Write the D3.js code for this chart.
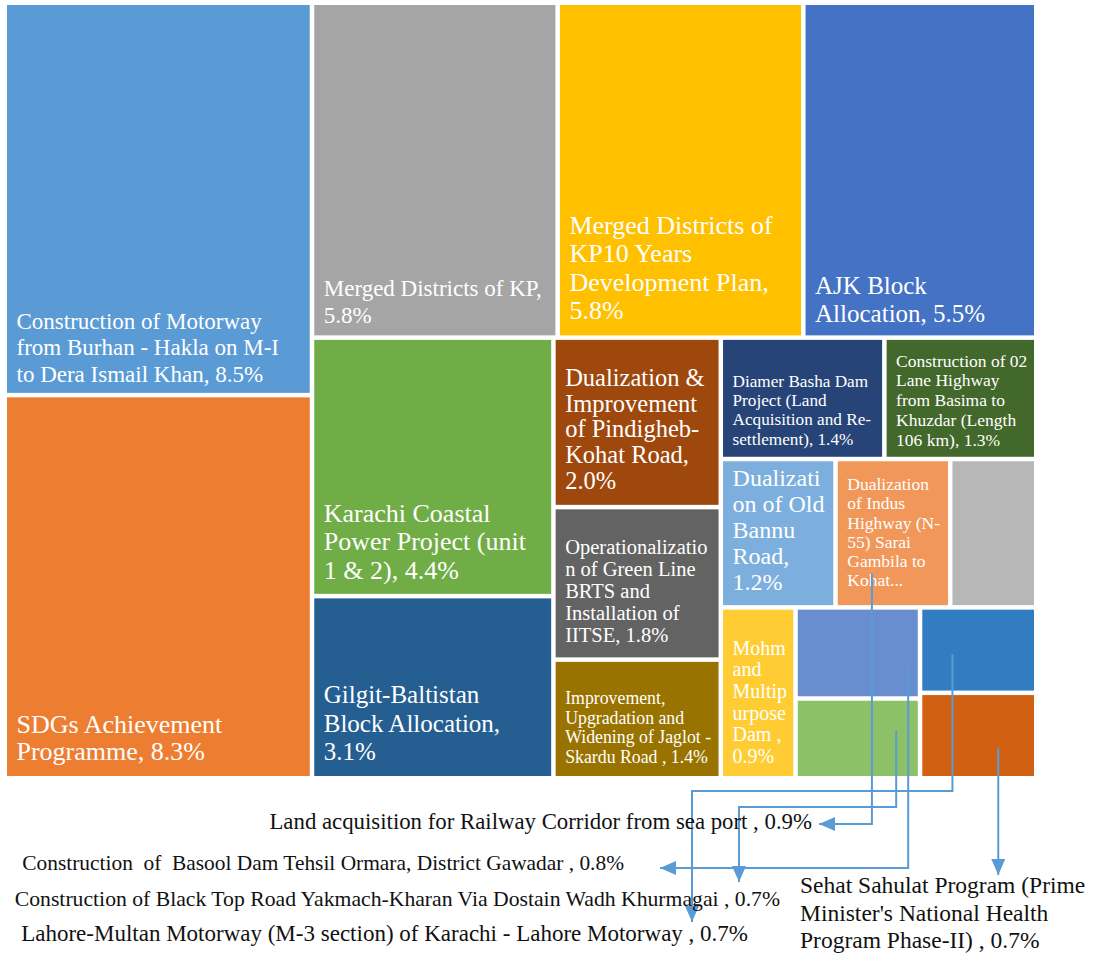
<!DOCTYPE html>
<html>
<head>
<meta charset="utf-8">
<script src="https://cdn.jsdelivr.net/npm/d3@7"></script>
<style>
  html, body { margin: 0; padding: 0; background: #ffffff; }
  svg { display: block; }
  text { font-family: "Palatino Linotype", "Book Antiqua", Palatino, "Liberation Serif", serif; }
</style>
</head>
<body>
<svg id="chart" width="1093" height="955"></svg>
<script>
// ---- Data: PSDP projects and their share of the allocation (%) ----
const projects = [
  "Construction of Motorway from Burhan - Hakla on M-I to Dera Ismail Khan",
  "SDGs Achievement Programme",
  "Merged Districts of KP",
  "Merged Districts of KP10 Years Development Plan",
  "AJK Block Allocation",
  "Karachi Coastal Power Project (unit 1 & 2)",
  "Gilgit-Baltistan Block Allocation",
  "Dualization & Improvement of Pindigheb-Kohat Road",
  "Operationalization of Green Line BRTS and Installation of IITSE",
  "Improvement, Upgradation and Widening of Jaglot - Skardu Road ",
  "Diamer Basha Dam Project (Land Acquisition and Re-settlement)",
  "Construction of 02 Lane Highway from Basima to Khuzdar (Length 106 km)",
  "Dualization of Old Bannu Road",
  "Dualization of Indus Highway (N-55) Sarai Gambila to Kohat",
  "Land acquisition for Railway Corridor from sea port ",
  "Mohmand Multipurpose Dam ",
  "Construction of Basool Dam Tehsil Ormara, District Gawadar ",
  "Construction of Black Top Road Yakmach-Kharan Via Dostain Wadh Khurmagai ",
  "Lahore-Multan Motorway (M-3 section) of Karachi - Lahore Motorway ",
  "Sehat Sahulat Program (Prime Minister's National Health Program Phase-II) "
];

const shares = [8.5, 8.3, 5.8, 5.8, 5.5, 4.4, 3.1, 2.0, 1.8, 1.4,
                1.4, 1.3, 1.2, 1.2, 0.9, 0.9, 0.8, 0.7, 0.7, 0.7];

const tileColors = [
  "#5B9BD5", "#ED7D31", "#A5A5A5", "#FFC000", "#4472C4", "#70AD47",
  "#255E91", "#9E480E", "#636363", "#997300", "#264478", "#43682B",
  "#7CAFDD", "#F1975A", "#B7B7B7", "#FFCD33", "#698ED0", "#8CC168",
  "#327DC2", "#D26012"
];

// Wrapped label lines drawn inside the tiles ({v} = formatted share)
const tileLabelLines = [
  ["Construction of Motorway", "from Burhan - Hakla on M-I", "to Dera Ismail Khan, {v}"],
  ["SDGs Achievement", "Programme, {v}"],
  ["Merged Districts of KP,", "{v}"],
  ["Merged Districts of", "KP10 Years", "Development Plan,", "{v}"],
  ["AJK Block", "Allocation, {v}"],
  ["Karachi Coastal", "Power Project (unit", "1 & 2), {v}"],
  ["Gilgit-Baltistan", "Block Allocation,", "{v}"],
  ["Dualization &", "Improvement", "of Pindigheb-", "Kohat Road,", "{v}"],
  ["Operationalizatio", "n of Green Line", "BRTS and", "Installation of", "IITSE, {v}"],
  ["Improvement,", "Upgradation and", "Widening of Jaglot -", "Skardu Road , {v}"],
  ["Diamer Basha Dam", "Project (Land", "Acquisition and Re-", "settlement), {v}"],
  ["Construction of 02", "Lane Highway", "from Basima to", "Khuzdar (Length", "106 km), {v}"],
  ["Dualizati", "on of Old", "Bannu", "Road,", "{v}"],
  ["Dualization", "of Indus", "Highway (N-", "55) Sarai", "Gambila to", "Kohat..."],
  null,
  ["Mohm", "and", "Multip", "urpose", "Dam ,", "{v}"],
  null, null, null, null
];

// Lines for the call-out labels below the chart
const calloutLines = {
  14: ["Land acquisition for Railway Corridor from sea port , {v}"],
  16: ["Construction  of  Basool Dam Tehsil Ormara, District Gawadar , {v}"],
  17: ["Construction of Black Top Road Yakmach-Kharan Via Dostain Wadh Khurmagai , {v}"],
  18: ["Lahore-Multan Motorway (M-3 section) of Karachi - Lahore Motorway , {v}"],
  19: ["Sehat Sahulat Program (Prime", "Minister's National Health", "Program Phase-II) , {v}"]
};

// ---- Layout settings ----
const frame = { x0: 4.75, y0: 2.75, x1: 1036.25, y1: 778.25 };
const inset = 2.25;          // white gap half-width around every tile
const textPadX = 9.5;

// strips: how many consecutive items share a column ("col") or a row ("row")
const stripPlan = [
  { n: 2, dir: "col" }, { n: 3, dir: "row" }, { n: 2, dir: "col" },
  { n: 3, dir: "col" }, { n: 2, dir: "row" }, { n: 3, dir: "row" },
  { n: 1, dir: "col" }, { n: 2, dir: "col" }, { n: 2, dir: "col" }
];

// tile label typography: [font size, line height, gap below last baseline]
const tileLabelStyle = [
  [23, 26.5, 11], [26, 27, 16], [23, 27, 12], [26, 28.5, 16], [25, 28, 13],
  [26, 28.5, 15], [25, 28.5, 16], [24.5, 25.7, 16], [20.5, 22, 15], [17.8, 19.7, 13],
  [17.2, 19.3, 12], [17.5, 19.8, 11], [24, 26, 15], [17.5, 19.2, 19], null,
  [20, 21.7, 13], null, null, null, null
];

// call-out label placement: text anchor point, font size, line height
const calloutStyle = {
  14: { x: 812, y: 829, anchor: "end", size: 22.8, lh: 0 },
  16: { x: 624, y: 870, anchor: "end", size: 21.4, lh: 0 },
  17: { x: 780, y: 906, anchor: "end", size: 21.7, lh: 0 },
  18: { x: 748, y: 941, anchor: "end", size: 23, lh: 0 },
  19: { x: 800, y: 893, anchor: "start", size: 23.5, lh: 27.5 }
};

// leader lines: start inside a tile (fractional position), then elbows to the label
const leaders = [
  { tile: 13, fx: 0.31, fy: 0.78, route: (sx) => [[sx, 824], [819, 824]] },
  { tile: 17, fx: 0.82, fy: 0.40, route: (sx) => [[sx, 807], [739, 807], [739, 882]] },
  { tile: 16, fx: 0.92, fy: 0.65, route: (sx) => [[sx, 868], [660, 868]] },
  { tile: 18, fx: 0.27, fy: 0.55, route: (sx) => [[sx, 791], [692, 791], [692, 922]] },
  { tile: 19, fx: 0.68, fy: 0.65, route: (sx) => [[sx, 875]] }
];

const leaderColor = "#5B9BD5";
const fmtPct = v => d3.format(".1f")(v) + "%";

// ---- Tiling: consecutive strips using D3's dice/slice partitions ----
function stripTile(plan) {
  return function (parent, x0, y0, x1, y1) {
    const nodes = parent.children;
    let remaining = parent.value, i = 0;
    for (const step of plan) {
      if (i >= nodes.length) break;
      const group = nodes.slice(i, i + step.n);
      const sum = d3.sum(group, d => d.value);
      const strip = { children: group, value: sum };
      if (step.dir === "col") {
        const xm = x0 + (x1 - x0) * sum / remaining;
        d3.treemapSlice(strip, x0, y0, xm, y1);
        x0 = xm;
      } else {
        const ym = y0 + (y1 - y0) * sum / remaining;
        d3.treemapDice(strip, x0, y0, x1, ym);
        y0 = ym;
      }
      remaining -= sum;
      i += step.n;
    }
  };
}

const items = projects.map((name, i) => ({ name, value: shares[i], color: tileColors[i], idx: i }));
const root = d3.hierarchy({ children: items }).sum(d => d.value || 0);

d3.treemap()
  .tile(stripTile(stripPlan))
  .size([frame.x1 - frame.x0, frame.y1 - frame.y0])
  .round(false)(root);

const leaves = root.leaves();
leaves.forEach(d => {
  d.rx0 = frame.x0 + d.x0 + inset;
  d.ry0 = frame.y0 + d.y0 + inset;
  d.rx1 = frame.x0 + d.x1 - inset;
  d.ry1 = frame.y0 + d.y1 - inset;
});

const svg = d3.select("#chart");
const defs = svg.append("defs");

defs.append("marker")
  .attr("id", "arrow")
  .attr("markerUnits", "userSpaceOnUse")
  .attr("viewBox", "0 0 16 14")
  .attr("markerWidth", 16)
  .attr("markerHeight", 14)
  .attr("refX", 16)
  .attr("refY", 7)
  .attr("orient", "auto")
  .append("path")
  .attr("d", "M0,0 L16,7 L0,14 Z")
  .attr("fill", leaderColor);

// clip paths so wrapped text never spills outside its tile
leaves.forEach(d => {
  defs.append("clipPath").attr("id", "clip-" + d.data.idx)
    .append("rect")
    .attr("x", d.rx0).attr("y", d.ry0)
    .attr("width", Math.max(0, d.rx1 - d.rx0))
    .attr("height", Math.max(0, d.ry1 - d.ry0));
});

const tiles = svg.append("g").attr("class", "tiles")
  .selectAll("g")
  .data(leaves)
  .join("g");

tiles.append("rect")
  .attr("x", d => d.rx0)
  .attr("y", d => d.ry0)
  .attr("width", d => Math.max(0, d.rx1 - d.rx0))
  .attr("height", d => Math.max(0, d.ry1 - d.ry0))
  .attr("fill", d => d.data.color);

tiles.each(function (d) {
  const i = d.data.idx;
  const lines = tileLabelLines[i];
  const style = tileLabelStyle[i];
  if (!lines || !style) return;
  const [size, lh, gap] = style;
  const txt = lines.map(s => s.replace("{v}", fmtPct(d.data.value)));
  const last = d.ry1 - gap;
  const t = d3.select(this).append("text")
    .attr("clip-path", `url(#clip-${i})`)
    .attr("fill", "#ffffff")
    .attr("font-size", size);
  txt.forEach((s, k) => {
    t.append("tspan")
      .attr("x", d.rx0 + textPadX)
      .attr("y", last - (txt.length - 1 - k) * lh)
      .text(s);
  });
});

// ---- Leader lines ----
const line = d3.line();
const leaderG = svg.append("g").attr("class", "leaders");
leaders.forEach(L => {
  const d = leaves[L.tile];
  const sx = d.rx0 + (d.rx1 - d.rx0) * L.fx;
  const sy = d.ry0 + (d.ry1 - d.ry0) * L.fy;
  const pts = [[sx, sy]].concat(L.route(sx));
  leaderG.append("path")
    .attr("d", line(pts))
    .attr("fill", "none")
    .attr("stroke", leaderColor)
    .attr("stroke-width", 2)
    .attr("marker-end", "url(#arrow)");
});

// ---- Call-out labels for the smallest tiles ----
const calloutG = svg.append("g").attr("class", "callouts");
Object.keys(calloutLines).forEach(key => {
  const i = +key;
  const st = calloutStyle[i];
  const txt = calloutLines[i].map(s => s.replace("{v}", fmtPct(shares[i])));
  const t = calloutG.append("text")
    .attr("fill", "#111111")
    .attr("font-size", st.size)
    .attr("text-anchor", st.anchor)
    .style("white-space", "pre");
  txt.forEach((s, k) => {
    t.append("tspan")
      .attr("x", st.x)
      .attr("y", st.y + k * st.lh)
      .text(s);
  });
});
</script>
</body>
</html>
